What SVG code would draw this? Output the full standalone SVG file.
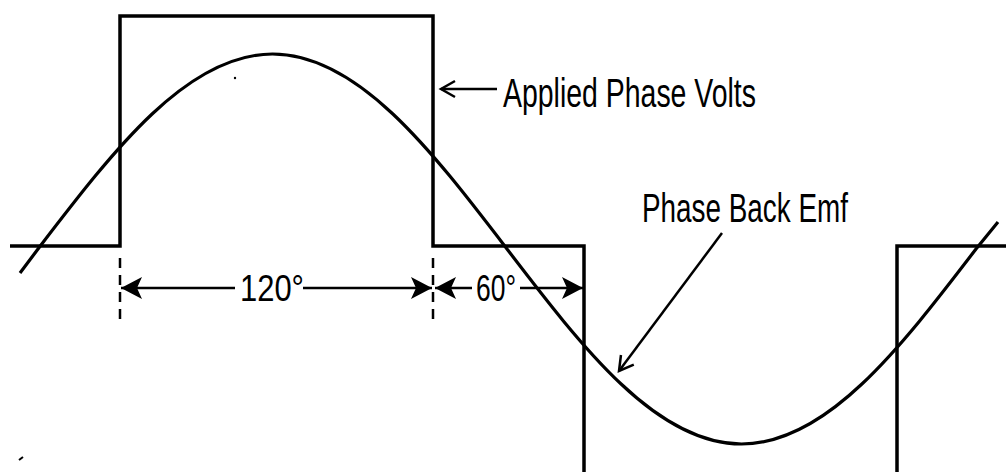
<svg xmlns="http://www.w3.org/2000/svg" width="1006" height="472" viewBox="0 0 1006 472">
<style>
.wave{fill:none;stroke:#000;stroke-width:3.5;stroke-linejoin:miter}
.sine{fill:none;stroke:#000;stroke-width:3.2}
.dim{fill:none;stroke:#000;stroke-width:2.5}
.dash{fill:none;stroke:#000;stroke-width:2.5;stroke-dasharray:10,7}
.lead{fill:none;stroke:#000;stroke-width:2.5}
.lbl{font-family:"Liberation Sans Narrow","Liberation Sans",sans-serif;font-size:40px;fill:#000}
.num{font-family:"Liberation Sans",sans-serif;font-size:36px;fill:#000}
</style>
<defs>
<marker id="fill" markerUnits="userSpaceOnUse" orient="auto" overflow="visible" markerWidth="1" markerHeight="1" refX="0" refY="0">
<path d="M0,0 L-21,-11 L-16,0 L-21,11 Z" fill="#000"/>
</marker>
<marker id="open" markerUnits="userSpaceOnUse" orient="auto" overflow="visible" markerWidth="1" markerHeight="1" refX="0" refY="0">
<path d="M-14,-8 L0,0 L-14,8" fill="none" stroke="#000" stroke-width="2.5"/>
</marker>
</defs>
<rect width="1006" height="472" fill="#fff"/>
<g id="applied-volts">
<path class="wave" d="M10,246 H120 V16 H433 V246 H584 V472 M897,472 V246 H1006"/>
</g>
<g id="back-emf">
<path class="sine" d="M20,273 L38,249 C114.5,149 187.6,54 272.5,54 C357.4,54 430.5,149 507,249 C583.5,349 656.6,444 741.5,444 C826.4,444 899.5,349 976,249 L998,222"/>
</g>
<g id="connectors">
<line class="dash" x1="120" y1="258" x2="120" y2="322"/>
<line class="dash" x1="433" y1="258" x2="433" y2="324"/>
<line class="dim" x1="235" y1="288" x2="121" y2="288" marker-end="url(#fill)"/>
<line class="dim" x1="303" y1="288" x2="432" y2="288" marker-end="url(#fill)"/>
<line class="dim" x1="472" y1="288" x2="435" y2="288" marker-end="url(#fill)"/>
<line class="dim" x1="520" y1="288" x2="583" y2="288" marker-end="url(#fill)"/>
<line class="lead" x1="497" y1="89" x2="441" y2="89" marker-end="url(#open)"/>
<line class="lead" x1="722" y1="233" x2="619" y2="371" marker-end="url(#open)"/>
</g>
<g id="labels">
<text class="lbl" x="503" y="107" textLength="253" lengthAdjust="spacingAndGlyphs">Applied Phase Volts</text>
<text class="lbl" x="642" y="222" textLength="206" lengthAdjust="spacingAndGlyphs">Phase Back Emf</text>
<text class="num" x="240" y="301" textLength="64" lengthAdjust="spacingAndGlyphs">120°</text>
<text class="num" x="476" y="301" textLength="40" lengthAdjust="spacingAndGlyphs">60°</text>
</g>
<circle cx="235" cy="78" r="1.2" fill="#000"/>
<path d="M19,460 L23,457" stroke="#000" stroke-width="2"/>
</svg>
